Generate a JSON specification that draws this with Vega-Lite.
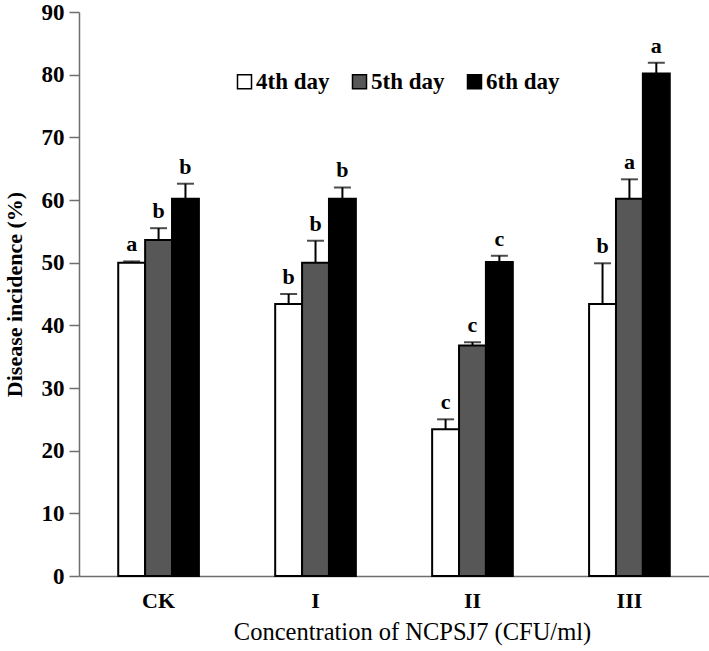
{
  "$schema": "https://vega.github.io/schema/vega-lite/v6.json",
  "width": 630,
  "height": 564,
  "autosize": "none",
  "padding": {"left": 79, "top": 12, "right": 0, "bottom": 75},
  "background": "white",
  "config": {
    "font": "Liberation Serif",
    "view": {"stroke": null},
    "axis": {
      "domainColor": "#6e6e6e",
      "domainWidth": 1.5,
      "tickColor": "#6e6e6e",
      "tickWidth": 1.5,
      "labelFont": "Liberation Serif",
      "labelFontWeight": "bold",
      "labelColor": "black",
      "titleFont": "Liberation Serif",
      "titleFontWeight": "bold",
      "titleColor": "black",
      "grid": false
    }
  },
  "data": {
    "values": [
      {"group": "CK", "day": "4th day", "value": 50.0, "upper": 50.2, "letter": "a"},
      {"group": "CK", "day": "5th day", "value": 53.6, "upper": 55.5, "letter": "b"},
      {"group": "CK", "day": "6th day", "value": 60.2, "upper": 62.6, "letter": "b"},
      {"group": "I", "day": "4th day", "value": 43.4, "upper": 45.0, "letter": "b"},
      {"group": "I", "day": "5th day", "value": 50.0, "upper": 53.5, "letter": "b"},
      {"group": "I", "day": "6th day", "value": 60.2, "upper": 62.0, "letter": "b"},
      {"group": "II", "day": "4th day", "value": 23.4, "upper": 25.0, "letter": "c"},
      {"group": "II", "day": "5th day", "value": 36.8, "upper": 37.3, "letter": "c"},
      {"group": "II", "day": "6th day", "value": 50.1, "upper": 51.1, "letter": "c"},
      {"group": "III", "day": "4th day", "value": 43.4, "upper": 49.9, "letter": "b"},
      {"group": "III", "day": "5th day", "value": 60.2, "upper": 63.3, "letter": "a"},
      {"group": "III", "day": "6th day", "value": 80.2, "upper": 81.9, "letter": "a"}
    ]
  },
  "encoding": {
    "x": {
      "field": "group",
      "type": "nominal",
      "sort": ["CK", "I", "II", "III"],
      "scale": {"paddingInner": 0.486, "paddingOuter": 0.25},
      "axis": {
        "title": "Concentration of NCPSJ7  (CFU/ml)",
        "labelAngle": 0,
        "labelFontSize": 22,
        "labelPadding": 14,
        "ticks": false,
        "titleFontSize": 24.5,
        "titlePadding": 9,
        "titleFontWeight": "normal",
        "titleX": 333,
        "titleAlign": "center"
      }
    },
    "xOffset": {
      "field": "day",
      "type": "nominal",
      "sort": ["4th day", "5th day", "6th day"],
      "scale": {"paddingInner": 0, "paddingOuter": 0}
    }
  },
  "layer": [
    {
      "mark": {"type": "bar", "stroke": "black", "strokeWidth": 2},
      "encoding": {
        "y": {
          "field": "value",
          "type": "quantitative",
          "scale": {"domain": [0, 90], "nice": false},
          "axis": {
            "title": "Disease incidence (%)",
            "values": [0, 10, 20, 30, 40, 50, 60, 70, 80, 90],
            "labelFontSize": 23,
            "tickSize": 10,
            "labelPadding": 5,
            "titleFontSize": 22,
            "titlePadding": 15
          }
        },
        "color": {
          "field": "day",
          "type": "nominal",
          "sort": ["4th day", "5th day", "6th day"],
          "scale": {"domain": ["4th day", "5th day", "6th day"], "range": ["white", "#575757", "black"]},
          "legend": {
            "title": null,
            "orient": "none",
            "direction": "horizontal",
            "legendX": 154,
            "legendY": 58,
            "symbolType": "square",
            "symbolSize": 196,
            "symbolStrokeColor": "black",
            "symbolStrokeWidth": 1.5,
            "labelFontSize": 23,
            "labelFontWeight": "bold",
            "labelFont": "Liberation Serif",
            "labelColor": "black",
            "labelOffset": 0,
            "columnPadding": 18
          }
        }
      }
    },
    {
      "mark": {"type": "rule", "strokeWidth": 2, "color": "black"},
      "encoding": {
        "y": {"field": "value", "type": "quantitative"},
        "y2": {"field": "upper"}
      }
    },
    {
      "mark": {"type": "tick", "size": 17, "thickness": 2, "color": "black"},
      "encoding": {
        "y": {"field": "upper", "type": "quantitative"}
      }
    },
    {
      "mark": {"type": "text", "fontSize": 22, "fontWeight": "bold", "baseline": "bottom", "dy": -5, "font": "Liberation Serif", "color": "black"},
      "encoding": {
        "y": {"field": "upper", "type": "quantitative"},
        "text": {"field": "letter"}
      }
    }
  ]
}
